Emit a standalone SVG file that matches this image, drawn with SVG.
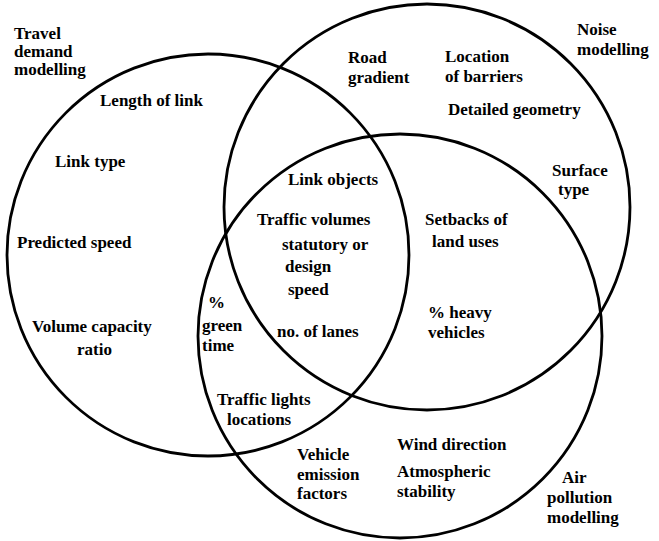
<svg xmlns="http://www.w3.org/2000/svg" width="659" height="541" viewBox="0 0 659 541">
<style>
.c{fill:none;stroke:#000;stroke-width:2.8}
text{font-family:"Liberation Serif","Times New Roman",serif;font-size:17px;font-weight:bold;fill:#000}
</style>
<rect width="659" height="541" fill="#fff"/>
<g id="circles">
<circle id="travel-demand" class="c" cx="208" cy="255" r="201"/>
<circle id="noise" class="c" cx="427" cy="207" r="203"/>
<circle id="air-pollution" class="c" cx="400" cy="336" r="202"/>
</g>
<g id="labels">
<text x="14" y="39">Travel</text>
<text x="14" y="57">demand</text>
<text x="14" y="75">modelling</text>
<text x="577" y="35">Noise</text>
<text x="577" y="55">modelling</text>
<text x="562" y="483">Air</text>
<text x="547" y="503">pollution</text>
<text x="547" y="523">modelling</text>
</g>
<g id="travel-only">
<text x="100" y="106">Length of link</text>
<text x="55" y="167">Link type</text>
<text x="17" y="248">Predicted speed</text>
<text x="32" y="332">Volume capacity</text>
<text x="77" y="355">ratio</text>
</g>
<g id="noise-only">
<text x="348" y="63">Road</text>
<text x="348" y="83">gradient</text>
<text x="445" y="62">Location</text>
<text x="445" y="82">of barriers</text>
<text x="448" y="115">Detailed geometry</text>
<text x="552" y="176">Surface</text>
<text x="558" y="195">type</text>
</g>
<g id="travel-noise">
<text x="288" y="185">Link objects</text>
</g>
<g id="all-three">
<text x="257" y="225">Traffic volumes</text>
<text x="282" y="250">statutory or</text>
<text x="285" y="272">design</text>
<text x="288" y="295">speed</text>
<text x="277" y="337">no. of lanes</text>
</g>
<g id="noise-air">
<text x="425" y="225">Setbacks of</text>
<text x="432" y="247">land uses</text>
<text x="428" y="318">% heavy</text>
<text x="428" y="338">vehicles</text>
</g>
<g id="travel-air">
<text x="208" y="308">%</text>
<text x="202" y="331">green</text>
<text x="202" y="351">time</text>
<text x="217" y="405">Traffic lights</text>
<text x="227" y="425">locations</text>
</g>
<g id="air-only">
<text x="297" y="460">Vehicle</text>
<text x="297" y="480">emission</text>
<text x="297" y="499">factors</text>
<text x="397" y="450">Wind direction</text>
<text x="397" y="477">Atmospheric</text>
<text x="397" y="497">stability</text>
</g>
</svg>
